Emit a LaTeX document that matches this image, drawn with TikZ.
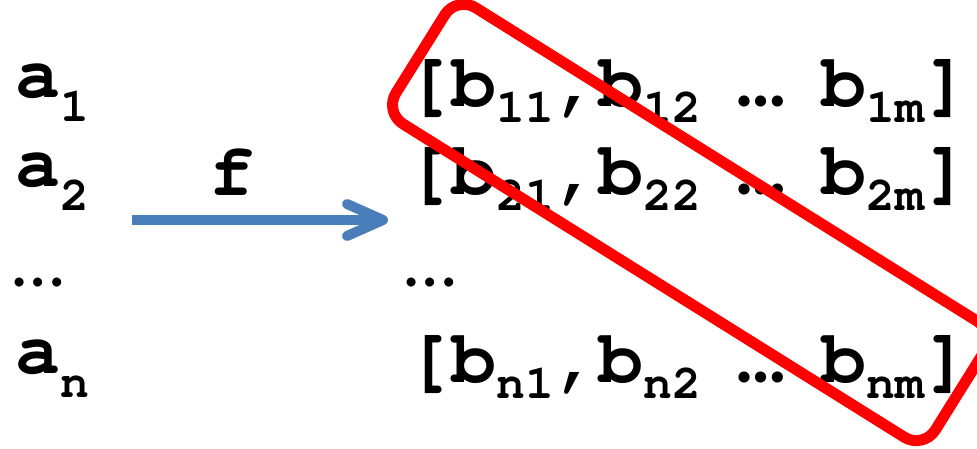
\documentclass[tikz,border=0pt]{standalone}
\usepackage[T1]{fontenc}
\usepackage{fontspec}
\newfontfamily\dotsfont{Carlito}
\usepackage{xcolor}
\usetikzlibrary{arrows.meta, positioning}

\definecolor{arrowblue}{RGB}{74,126,187}
\newcommand{\courierbold}{\fontencoding{T1}\fontfamily{pcr}\fontseries{b}\selectfont}
\newcommand{\subidx}[2][16pt]{\raisebox{-#1}{\fontsize{48}{48}\selectfont #2}}
\newcommand{\gapdots}{\makebox[120pt]{\dotsfont …}}

\begin{document}
\begin{tikzpicture}[x=1pt, y=1pt]
    % Styles
    \tikzstyle{entry} = [anchor=base west, inner sep=0pt, font=\fontsize{75}{75}\courierbold]
    \tikzstyle{dots} = [anchor=base west, inner sep=0pt, font=\dotsfont\fontsize{75}{75}\selectfont]
    \tikzstyle{arrow} = [draw=arrowblue, line width=10pt, -{Straight Barb[length=36pt, width=32pt, line cap=round, line join=round]}]
    \tikzstyle{select} = [draw=red, line width=11pt, rounded corners=22.5pt, minimum width=636pt, minimum height=137pt, inner sep=0pt, rotate=-32]

    \useasboundingbox (0,0) rectangle (977,449);

    % Nodes
    \node (a1) [entry] at (15,351) {a\subidx[24pt]{1}};
    \node (a2) [entry] at (15,262) {a\subidx[24pt]{2}};
    \node (adots) [dots] at (12,162) {…};
    \node (an) [entry] at (15,75) {a\subidx[24pt]{n}};

    \node (b1) [entry] at (406,342) {[b\subidx{11},b\subidx{12}\gapdots b\subidx{1m}]};
    \node (b2) [entry] at (406,254) {[b\subidx{21},b\subidx{22}\gapdots b\subidx{2m}]};
    \node (bdots) [dots] at (404,162) {…};
    \node (bn) [entry] at (406,66) {[b\subidx{n1},b\subidx{n2}\gapdots b\subidx{nm}]};

    \coordinate (fstart) at (132,229);
    \coordinate (fend) at (388,229);

    % Arrows
    \draw [arrow] (fstart) -- node (flabel) [pos=0.39, anchor=base, yshift=24pt, font=\fontsize{75}{75}\courierbold] {f} (fend);

    % Selection
    \node (sel) [select] at (690,226.5) {};
\end{tikzpicture}
\end{document}
